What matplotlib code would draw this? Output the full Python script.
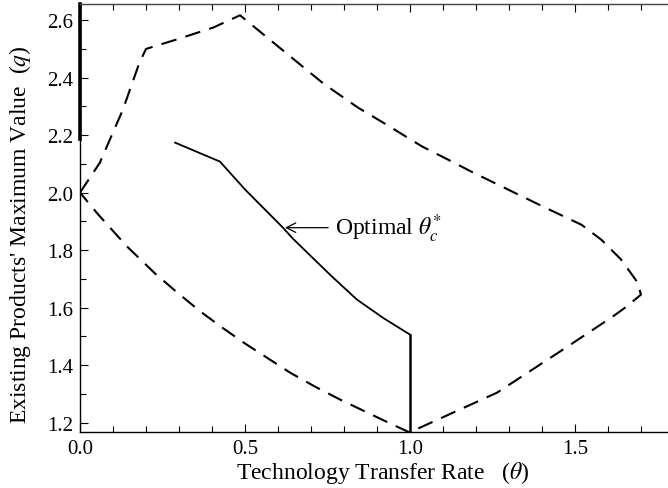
import matplotlib
matplotlib.use("Agg")
import matplotlib.pyplot as plt
from matplotlib.ticker import MultipleLocator, FormatStrFormatter

plt.rcParams['font.family'] = ['Liberation Serif', 'DejaVu Serif']
plt.rcParams['mathtext.fontset'] = 'stix'

# feasible region boundary (dashed)
bound_theta = [0.0, 0.06, 0.13, 0.18, 0.2, 0.293, 0.403, 0.485, 0.737, 0.842, 0.918,
               1.036, 1.115, 1.191, 1.404, 1.52, 1.58, 1.64, 1.69, 1.70,
               1.657, 1.615, 1.464, 1.264, 1.03, 1.0,
               0.945, 0.87, 0.788, 0.712, 0.636, 0.5, 0.43, 0.364, 0.294,
               0.227, 0.142, 0.055, 0.0]
bound_q = [2.0, 2.104, 2.289, 2.452, 2.5, 2.533, 2.574, 2.617, 2.38, 2.296, 2.244,
           2.161, 2.115, 2.07, 1.951, 1.888, 1.836, 1.767, 1.687, 1.645,
           1.604, 1.569, 1.454, 1.304, 1.182, 1.165,
           1.194, 1.235, 1.28, 1.325, 1.374, 1.475, 1.531, 1.587, 1.653,
           1.719, 1.813, 1.924, 2.0]

# optimal theta_c* (solid)
opt_theta = [0.288, 0.424, 0.5, 0.615, 0.645, 0.758, 0.839, 0.92, 1.0]
opt_q = [2.174, 2.108, 2.011, 1.878, 1.84, 1.714, 1.628, 1.563, 1.506]
# vertical parts of theta_c*
vert_top_theta = [0.0, 0.0]
vert_top_q = [2.185, 2.655]
vert_bot_theta = [1.0, 1.0]
vert_bot_q = [1.506, 1.167]

fig = plt.figure(figsize=(6.68, 4.89), dpi=100)
ax = fig.add_axes([0.1198, 0.1145, 0.8802, 0.8745])

ax.plot(bound_theta, bound_q, color='black', lw=1.5, dashes=(7.5, 4.5))
ax.plot(opt_theta, opt_q, color='black', lw=1.3)
ax.plot(vert_top_theta, vert_top_q, color='black', lw=2.6, clip_on=False)
ax.plot(vert_bot_theta, vert_bot_q, color='black', lw=1.8)

ax.annotate(r"Optimal $\theta_c^{*}$", xy=(0.621, 1.878), xytext=(0.773, 1.878),
            ha='left', va='center', fontsize=17,
            arrowprops=dict(arrowstyle='->', color='black', lw=0.9,
                            shrinkA=3, shrinkB=0))

ax.set_xlim(0, 1.782)
ax.set_ylim(1.167, 2.655)

ax.xaxis.set_major_locator(MultipleLocator(0.5))
ax.xaxis.set_minor_locator(MultipleLocator(0.1))
ax.yaxis.set_major_locator(MultipleLocator(0.2))
ax.yaxis.set_minor_locator(MultipleLocator(0.1))
ax.xaxis.set_major_formatter(FormatStrFormatter('%.1f'))
ax.yaxis.set_major_formatter(FormatStrFormatter('%.1f'))

ax.tick_params(which='both', direction='in', top=True, right=False,
               labelsize=15, width=0.8, colors='black')
ax.tick_params(which='major', length=6, pad=5)
ax.tick_params(which='minor', length=4)
ax.spines['right'].set_visible(False)
for s in ['left', 'bottom', 'top']:
    ax.spines[s].set_linewidth(1.0)
ax.spines['top'].set_color('#444444')

ax.set_xlabel(r"Technology Transfer Rate   ($\theta$)", fontsize=17)
ax.set_ylabel(r"Existing Products' Maximum Value  ($q$)", fontsize=17)
ax.xaxis.set_label_coords(0.515, -0.062)
ax.yaxis.set_label_coords(-0.08, 0.463)

fig.savefig("out.png", dpi=100)
